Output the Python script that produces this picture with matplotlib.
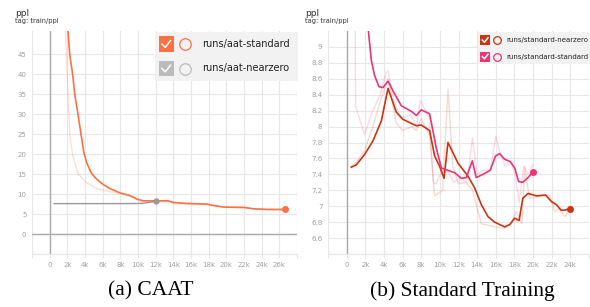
import matplotlib
matplotlib.use("Agg")
import matplotlib.pyplot as plt
from matplotlib.patches import Rectangle
from matplotlib.lines import Line2D

W, H = 590, 307

# --- (a) CAAT : train/ppl ---
a_std_steps = [1900, 2270, 2600, 2840, 3200, 3550, 3860, 4200, 4700, 5200, 5700, 6200, 6800, 7950,
               9100, 9850, 10600, 12100, 13400, 14000, 15500, 17800, 18400, 19700, 22000, 23100,
               24600, 26600]
a_std_ppl = [56, 45, 40, 35, 30, 25, 20.5, 17.8, 15.3, 14.0, 13.0, 12.2, 11.4, 10.3,
             9.6, 8.75, 8.3, 8.3, 8.3, 7.9, 7.65, 7.5, 7.2, 6.75, 6.65, 6.3,
             6.15, 6.15]
a_std_raw_steps = [1600, 1900, 2080, 2270, 2460, 2650, 3200, 4000, 5300, 6800, 8300, 9500, 10200,
                   11200, 12500, 13600, 14200, 16000, 18000, 18600, 20000, 22500, 23500, 25000, 26600]
a_std_raw_ppl = [58, 45, 34.3, 25.2, 21.8, 19.3, 15.2, 13.1, 11.4, 10.6, 10.0, 9.3, 8.1,
                 7.9, 8.1, 8.0, 7.5, 7.45, 7.3, 6.9, 6.7, 6.55, 6.2, 6.1, 6.1]
a_nz_steps = [500, 3000, 6000, 9000, 10500, 11200, 12000]
a_nz_ppl = [7.6, 7.6, 7.6, 7.62, 7.65, 7.9, 8.15]

# --- (b) Standard Training : train/ppl ---
b_nz_steps = [500, 1040, 1930, 2820, 3720, 4440, 5330, 6050, 7480, 8000, 8900, 9440, 9980, 10450,
              10870, 11950, 13000, 13730, 14450, 15160, 15880, 16950, 17500, 18030, 18500, 18900,
              19460, 20360, 21350, 21960, 22500, 23000, 23400, 23950]
b_nz_ppl = [7.49, 7.52, 7.65, 7.82, 8.07, 8.48, 8.18, 8.09, 8.01, 8.02, 7.95, 7.63, 7.50, 7.35,
            7.80, 7.54, 7.38, 7.23, 7.02, 6.87, 6.80, 6.74, 6.77, 6.85, 6.82, 7.10,
            7.16, 7.13, 7.14, 7.06, 7.02, 6.95, 6.95, 6.97]
b_std_steps = [2250, 2650, 3000, 3470, 3900, 4440, 5150, 5870, 6950, 7480, 8000, 8900, 9620, 10160,
               10870, 11600, 12300, 12840, 13480, 13900, 14620, 15400, 15970, 16400, 16950, 17560,
               18030, 18450, 18900, 19460, 20000]
b_std_ppl = [9.3, 8.83, 8.64, 8.50, 8.49, 8.57, 8.41, 8.26, 8.19, 8.14, 8.21, 8.16, 7.73, 7.48,
             7.45, 7.42, 7.35, 7.36, 7.57, 7.36, 7.40, 7.45, 7.63, 7.66, 7.59, 7.56,
             7.48, 7.31, 7.30, 7.36, 7.43]
b_nz_raw_steps = [500, 1000, 1930, 2800, 3700, 4440, 5300, 6000, 7000, 7500, 8000, 8900, 9440, 10300,
                  10870, 11400, 12000, 12800, 13500, 14450, 15200, 16000, 16900, 17500, 18200, 18800,
                  19100, 19600, 20700, 21300, 21800, 22300, 22800, 23400, 24000]
b_nz_raw_ppl = [7.5, 7.55, 7.7, 8.0, 8.35, 8.6, 8.05, 7.95, 8.0, 7.95, 8.1, 7.9, 7.13, 7.2,
                8.47, 7.5, 7.28, 7.3, 7.2, 6.78, 6.76, 6.74, 6.72, 6.76, 6.93, 6.78,
                7.5, 7.1, 7.12, 7.15, 7.13, 6.93, 6.97, 6.87, 6.97]
b_std_raw_steps = [800, 970, 1930, 2800, 3600, 4200, 4440, 5100, 5800, 6900, 7500, 7900, 8900, 9300,
                   9600, 10200, 10900, 11500, 12300, 12900, 13500, 14000, 14600, 15400, 16000, 16400,
                   17000, 17600, 18100, 18500, 19000, 19500, 20000]
b_std_raw_ppl = [11.0, 8.25, 7.9, 8.2, 8.4, 8.67, 8.7, 8.3, 8.1, 8.15, 8.0, 8.33, 8.1, 7.3,
                 7.28, 7.45, 7.43, 7.3, 7.35, 7.3, 7.86, 7.4, 7.45, 7.45, 7.88, 7.7,
                 7.5, 7.55, 7.4, 7.05, 7.5, 7.4, 7.52]

ORANGE = "#ff7043"
RED = "#cc3311"
PINK = "#ee3377"
GRAY = "#bbbbbb"
GRID = "#e6e6e6"
TICK = "#a0a0a0"

fig = plt.figure(figsize=(W / 100, H / 100), dpi=100)


def fx(x):
    return x / W


def fy(y):
    return 1 - y / H


def style_axes(ax, xticks, xmax_label, yticks, ylabels):
    ax.set_xticks(xticks)
    ax.set_xticklabels(["" if (t < 0 or t > xmax_label) else ("0" if t == 0 else f"{t // 1000}k")
                        for t in xticks])
    ax.set_yticks(yticks)
    ax.set_yticklabels(ylabels)
    ax.grid(True, color=GRID, lw=0.8)
    ax.set_axisbelow(True)
    for s in ["top", "right", "left"]:
        ax.spines[s].set_visible(False)
    ax.spines["bottom"].set_color(GRID)
    ax.spines["bottom"].set_linewidth(0.8)
    ax.tick_params(axis="x", length=3, width=0.8, color=GRID, labelcolor=TICK, labelsize=5, pad=3)
    ax.tick_params(axis="y", length=0, labelcolor=TICK, labelsize=5, pad=4)
    ax.axvline(0, color="#aaaaaa", lw=1.0, zorder=1)


# left panel
ax1 = fig.add_axes([fx(32), fy(254), fx(297) - fx(32), fy(31) - fy(254)])
ax1.plot(a_std_raw_steps, a_std_raw_ppl, color=ORANGE, alpha=0.22, lw=1.0)
ax1.plot(a_nz_steps, a_nz_ppl, color="#999999", lw=1.0)
ax1.plot(a_std_steps, a_std_ppl, color=ORANGE, lw=1.2)
ax1.plot([a_nz_steps[-1]], [a_nz_ppl[-1]], "o", color="#999999", ms=3.5)
ax1.plot([a_std_steps[-1]], [a_std_ppl[-1]], "o", color=ORANGE, ms=4)
ax1.axhline(0, color="#aaaaaa", lw=1.0, zorder=1)
ax1.set_xlim(-2000, 28000)
ax1.set_ylim(-5, 50.8)
yt1 = list(range(-5, 50, 5))
style_axes(ax1, list(range(-2000, 28001, 2000)), 26000, yt1,
           ["" if v < 0 else str(v) for v in yt1])

# right panel
ax2 = fig.add_axes([fx(328), fy(254), fx(589) - fx(328), fy(31) - fy(254)])
ax2.plot(b_std_raw_steps, b_std_raw_ppl, color=PINK, alpha=0.18, lw=1.0)
ax2.plot(b_nz_raw_steps, b_nz_raw_ppl, color=RED, alpha=0.18, lw=1.0)
ax2.plot(b_nz_steps, b_nz_ppl, color=RED, lw=1.2)
ax2.plot(b_std_steps, b_std_ppl, color=PINK, lw=1.2)
ax2.plot([b_nz_steps[-1]], [b_nz_ppl[-1]], "o", color=RED, ms=4)
ax2.plot([b_std_steps[-1]], [b_std_ppl[-1]], "o", color=PINK, ms=4)
ax2.set_xlim(-2000, 26000)
ax2.set_ylim(6.4, 9.2)
yt2 = [6.4, 6.6, 6.8, 7.0, 7.2, 7.4, 7.6, 7.8, 8.0, 8.2, 8.4, 8.6, 8.8, 9.0]
style_axes(ax2, list(range(-2000, 26001, 2000)), 24000, yt2,
           ["" if v < 6.5 else f"{v:g}" for v in yt2])

# headers
for x0 in (15, 305):
    fig.text(fx(x0), fy(13), "ppl", fontsize=6.5, color="#333333", va="center")
    fig.text(fx(x0), fy(21.5), "tag: train/ppl", fontsize=4.8, color="#333333", va="center")


def legend(box, rows, size, txt_x, box_x, circ_x, fs):
    x0, y0, x1, y1 = box
    fig.patches.append(Rectangle((fx(x0), fy(y1)), fx(x1) - fx(x0), fy(y0) - fy(y1),
                                 transform=fig.transFigure, facecolor="#f2f2f2",
                                 edgecolor="none", zorder=5))
    for yc, col, label in rows:
        h = size / 2
        fig.patches.append(Rectangle((fx(box_x - h), fy(yc + h)), fx(size), size / H,
                                     transform=fig.transFigure, facecolor=col,
                                     edgecolor="none", zorder=6))
        fig.lines.append(Line2D([fx(box_x - h * 0.55), fx(box_x - h * 0.1), fx(box_x + h * 0.6)],
                                [fy(yc), fy(yc + h * 0.45), fy(yc - h * 0.45)],
                                transform=fig.transFigure, color="white", lw=1.1, zorder=7))
        fig.lines.append(Line2D([fx(circ_x)], [fy(yc)], transform=fig.transFigure, marker="o",
                                ms=size * 0.55, mfc="none", mec=col, mew=0.9, zorder=7))
        fig.text(fx(txt_x), fy(yc), label, fontsize=fs, color="#222222", va="center", zorder=8)


legend((155, 32, 298, 81),
       [(44, ORANGE, "runs/aat-standard"), (68.5, GRAY, "runs/aat-nearzero")],
       15, 202, 166, 185, 7)
legend((478, 32, 590, 64),
       [(40, RED, "runs/standard-nearzero"), (56.5, PINK, "runs/standard-standard")],
       10, 506, 485, 497, 5)

# captions
fig.text(fx(151), fy(291), "(a) CAAT", fontsize=15.5, family="Liberation Serif",
         ha="center", va="center")
fig.text(fx(462), fy(291), "(b) Standard Training", fontsize=15.5, family="Liberation Serif",
         ha="center", va="center")

fig.savefig("out.png", dpi=100)
